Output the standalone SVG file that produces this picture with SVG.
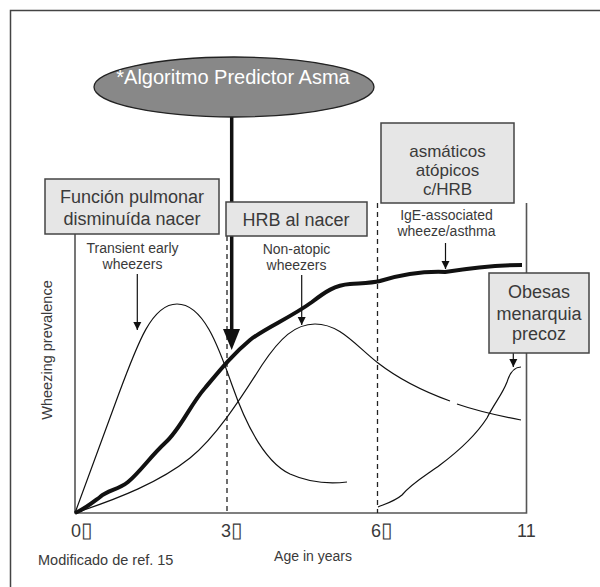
<svg xmlns="http://www.w3.org/2000/svg" width="600" height="587" viewBox="0 0 600 587">
<style>
text{font-family:"Liberation Sans",Arial,sans-serif;fill:#3a3a3a}
.box{fill:#e6e6e6;stroke:#444;stroke-width:1.5}
.lbl{font-size:18px;text-anchor:middle}
.sm{font-size:14px;text-anchor:middle}
.thin{fill:none;stroke:#111;stroke-width:1.2}
.axis{fill:none;stroke:#555;stroke-width:1.6}
.dash{fill:none;stroke:#222;stroke-width:1.3;stroke-dasharray:5,4}
.arr{fill:none;stroke:#111;stroke-width:1.2;marker-end:url(#ah)}
.tick{font-size:18px}
.tofu{font-size:21px}
</style>
<defs>
<marker id="ah" viewBox="0 0 10 10" refX="10" refY="5" markerWidth="8" markerHeight="10" markerUnits="userSpaceOnUse" orient="auto"><path d="M0,0 L10,5 L0,10 z" fill="#111"/></marker>
</defs>
<rect width="600" height="587" fill="#fff"/>
<path d="M10.5,587 V10.5 H600" fill="none" stroke="#444" stroke-width="1.5"/>
<g id="axes">
<path class="axis" d="M75,233 V513 H526.5 V203"/>
<text x="71" y="537" class="tick">0<tspan class="tofu">▯</tspan></text>
<text x="221" y="537" class="tick">3<tspan class="tofu">▯</tspan></text>
<text x="371" y="537" class="tick">6<tspan class="tofu">▯</tspan></text>
<text x="517" y="537" class="tick">11</text>
<text x="313" y="561" class="sm">Age in years</text>
<text transform="translate(52,350) rotate(-90)" class="sm" style="font-size:14.5px">Wheezing prevalence</text>
<text x="38" y="565" style="font-size:14.5px">Modificado de ref. 15</text>
</g>
<g id="connectors">
<path class="dash" d="M227,236 V513"/>
<path class="dash" d="M377.5,203 V513"/>
<path id="transient-curve" class="thin" d="M75,513 L118,396 C138,342 152,304 177,304 C203,304 218,345 232,385 C246,425 265,462 290,474 C310,483 330,484 347,482"/>
<path id="nonatopic-curve" class="thin" d="M75,513 C120,498 160,482 190,458 C215,438 240,400 262,365 C280,338 295,324 315,324 C340,324 355,345 378,363 C400,380 425,392 450,401"/>
<path class="thin" d="M457,404 C480,412 500,416 521,420"/>
<path id="ige-curve" class="thin" d="M378,507 C388,503 395,501 402,495 C412,483 425,476 440,465 C460,450 478,432 487,418 C495,402 502,395 507,382 C510,372 514,367 521,367"/>
<path id="thick-curve" fill="none" stroke="#111" stroke-width="4" stroke-linejoin="round" d="M75,513 C85,509 92,503 100,497 C108,490 118,490 128,482 C140,472 150,457 165,443 C180,430 190,405 205,388 C220,370 232,355 250,340 C265,328 290,318 312,302 C325,292 335,285 350,284 C365,283 372,283 380,281 C400,275 420,271 445,272 C470,268 495,265 522,265"/>
<path fill="none" stroke="#111" stroke-width="3.5" d="M231.7,117 V331"/>
<path d="M223,329 L240,329 L231.7,350 z" fill="#111"/>
<path class="arr" d="M137.3,274 V330"/>
<path class="arr" d="M301.7,275 V325"/>
<path class="arr" d="M445.5,243 V269"/>
<path class="arr" d="M513.3,353 V367"/>
</g>
<g id="ellipse-node">
<ellipse cx="234" cy="87" rx="140" ry="30" fill="#888" stroke="#222" stroke-width="1.3"/>
<text x="233" y="84" style="font-size:20px;fill:#fff;text-anchor:middle">*Algoritmo Predictor Asma</text>
</g>
<g id="funcion-node">
<rect class="box" x="45" y="179" width="174" height="55"/>
<text class="lbl" x="132" y="203">Función pulmonar</text>
<text class="lbl" x="132" y="225">disminuída nacer</text>
</g>
<g id="hrb-node">
<rect class="box" x="226" y="202" width="141" height="34"/>
<text class="lbl" x="296" y="225.5">HRB al nacer</text>
</g>
<g id="asmaticos-node">
<rect class="box" x="381" y="123" width="133" height="80"/>
<text class="lbl" x="447.5" y="157" style="font-size:17px">asmáticos</text>
<text class="lbl" x="447.5" y="176" style="font-size:17px">atópicos</text>
<text class="lbl" x="447.5" y="195" style="font-size:17px">c/HRB</text>
</g>
<g id="obesas-node">
<rect class="box" x="489" y="273" width="100" height="80"/>
<text class="lbl" x="539" y="298">Obesas</text>
<text class="lbl" x="539" y="320">menarquia</text>
<text class="lbl" x="539" y="340">precoz</text>
</g>
<g id="labels">
<text class="sm" x="132.5" y="253">Transient early</text>
<text class="sm" x="132.5" y="269">wheezers</text>
<text class="sm" x="296.5" y="254">Non-atopic</text>
<text class="sm" x="296.5" y="270">wheezers</text>
<text class="sm" x="446.5" y="220">IgE-associated</text>
<text class="sm" x="446.5" y="236">wheeze/asthma</text>
</g>
</svg>
